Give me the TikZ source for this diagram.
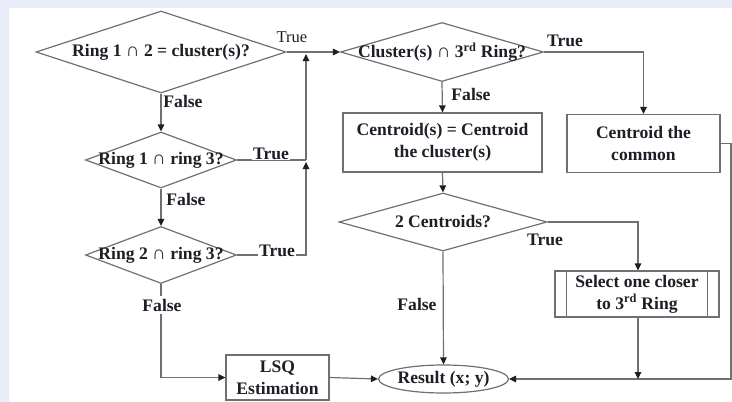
\documentclass[tikz,border=0pt]{standalone}
\usepackage{fontspec}
\setmainfont{Liberation Serif}
\usetikzlibrary{shapes.geometric,arrows.meta}
\definecolor{bgblue}{RGB}{231,236,246}
\definecolor{linegray}{RGB}{112,112,112}
\definecolor{inkc}{RGB}{30,30,38}
\newcommand{\capsym}{{\fontsize{19}{22}\selectfont ∩}}
\tikzset{
  x=1pt,y=-1pt,
  every node/.style={text=inkc,font=\fontsize{17.6}{22}\selectfont\bfseries},
  dia/.style={diamond,draw=linegray,line width=1.2pt,inner sep=0pt,fill=white},
  boxn/.style={rectangle,draw=linegray,line width=1.2pt,inner sep=0pt,align=center,fill=white},
  conn/.style={draw=linegray,line width=1.2pt},
  arr/.style={conn,-{Triangle[length=7pt,width=6.5pt,color=inkc]}},
  lbl/.style={inner sep=0pt},
  lblr/.style={inner sep=0pt,font=\fontsize{16.5}{22}\selectfont\mdseries},
}
\begin{document}
\begin{tikzpicture}
\useasboundingbox (0,0) rectangle (732,402);
\fill[bgblue] (0,0) rectangle (732,402);
\fill[white] (9,8) rectangle (732,402);

% decisions
\node[dia,minimum width=250pt,minimum height=82pt,label=center:{Ring 1 \capsym{} 2 = cluster(s)?}] (d1) at (161,52) {};
\node[dia,minimum width=151pt,minimum height=56pt,label=center:{Ring 1 \capsym{} ring 3?}] (d4) at (161,160) {};
\node[dia,minimum width=151pt,minimum height=57pt,label=center:{Ring 2 \capsym{} ring 3?}] (d5) at (161,255) {};
\node[dia,minimum width=203pt,minimum height=59pt,label=center:{Cluster(s) \capsym{} 3\textsuperscript{rd} Ring?}] (d2) at (442,52) {};
\node[dia,minimum width=208pt,minimum height=58pt,label=center:{2 Centroids?}] (d3) at (443,222) {};

% processes
\node[boxn,minimum width=199pt,minimum height=59pt] (b1) at (442.5,142.5) {Centroid(s) = Centroid\\the cluster(s)};
\node[boxn,minimum width=153pt,minimum height=58pt] (b2) at (643.5,143.5) {Centroid the\\common};
\node[boxn,minimum width=164pt,minimum height=46pt] (b3) at (637,294) {Select one closer\\to 3\textsuperscript{rd} Ring};
\draw[conn] ([xshift=12pt]b3.north west) -- ([xshift=12pt]b3.south west);
\draw[conn] ([xshift=-12pt]b3.north east) -- ([xshift=-12pt]b3.south east);
\node[boxn,minimum width=103pt,minimum height=45pt] (lsq) at (277.5,377.5) {LSQ\\Estimation};
\node[ellipse,draw=linegray,line width=1.2pt,inner sep=0pt,minimum width=127pt,minimum height=28pt,fill=white] (res) at (443.5,379) {Result (x; y)};

% junction coordinates
\coordinate (j1) at (306,52);
\coordinate (j2) at (306,160);
\coordinate (j3) at (638,379);

% left column
\draw[arr] (d1.east) -- (d2.west);
\node[lblr] (t1) at (292,37) {True};
\draw[arr] (j2) -- ([yshift=-2pt]j1);
\draw[conn] (d4.east) -- (j2);
\node[lbl,fill=white,inner xsep=1pt] (t4) at (271,154) {True};
\draw[arr] (d5.east) -- (306,255) -- ([yshift=-2pt]j2);
\node[lbl,fill=white,inner xsep=1pt] (t5) at (277,251) {True};
\draw[arr] (d1.south) -- (d4.north);
\node[lbl] (f1) at (183,101) {False};
\draw[arr] (d4.south) -- (d5.north);
\node[lbl] (f4) at (186,199) {False};
\draw[arr] (d5.south) |- (lsq.west);
\node[lbl,fill=white,inner ysep=3pt] (f5) at (162,305) {False};
\draw[arr] (lsq.east) -- (res.west);

% right part
\draw[arr] (d2.east) -| (b2.north);
\node[lbl] (t2) at (565,41) {True};
\draw[arr] (d2.south) -- (b1.north);
\node[lbl] (f2) at (471,94) {False};
\draw[arr] (b1.south) -- (d3.north);
\draw[arr] (d3.east) -| (b3.north -| j3);
\node[lbl] (t3) at (545,240) {True};
\draw[arr] (d3.south) -- (res.north);
\node[lbl] (f3) at (417,304) {False};
\draw[arr] (b2.east) -- (731,143.5) -- (731,379) -- (res.east);
\draw[arr] (b3.south -| j3) -- (j3);
\end{tikzpicture}
\end{document}
